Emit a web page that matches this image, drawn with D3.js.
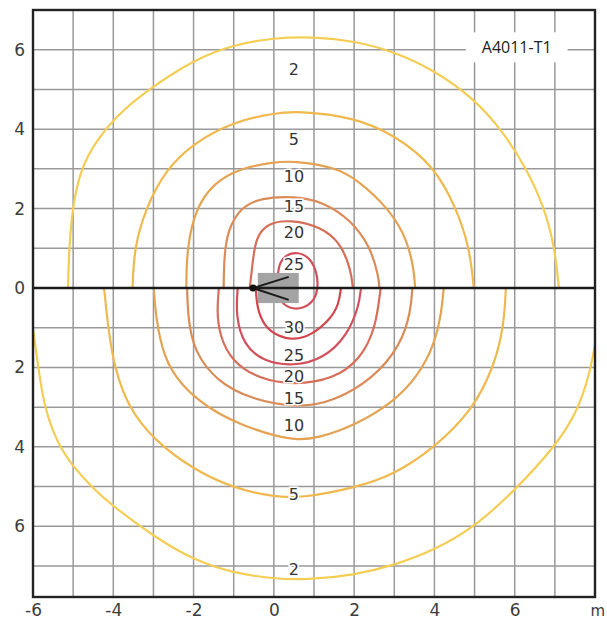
<!DOCTYPE html>
<html>
<head>
<meta charset="utf-8">
<script src="https://cdn.jsdelivr.net/npm/d3@7"></script>
<style>
  body { margin: 0; background: #fff; }
  svg { display: block; }
  .tick-label { font-family: "DejaVu Sans", sans-serif; font-size: 17px; fill: #3c3c3c; }
  .unit-label { font-family: "DejaVu Sans", sans-serif; font-size: 15px; fill: #3c3c3c; }
  .contour-label { font-family: "DejaVu Sans", sans-serif; font-size: 16px; fill: #333; }
  .tag { font-family: "Open Sans", sans-serif; font-size: 16px; fill: #222; }
</style>
</head>
<body>
<div id="chart"></div>
<script>
// Axis ticks (metres)
const xTicks = [-6, -4, -2, 0, 2, 4, 6];
const yTicks = [6, 4, 2, 0, -2, -4, -6];
const xGridLines = [-5, -4, -3, -2, -1, 0, 1, 2, 3, 4, 5, 6, 7];
const yGridLines = [6, 5, 4, 3, 2, 1, -1, -2, -3, -4, -5, -6, -7];

// Isolines, upper half (x, y in m)
const upper2 = [[-5.13,0],[-5.1,1.0],[-5.02,2.0],[-4.82,3.0],[-4.4,3.75],[-3.9,4.35],[-3.2,4.95],[-2.0,5.75],[-1.0,6.13],[0,6.3],[1,6.33],[2,6.22],[3,5.95],[4,5.48],[5,4.76],[5.7,3.95],[6.3,3.0],[6.75,2.0],[7.0,1.0],[7.1,0]];
const upper5 = [[-3.52,0],[-3.48,1.0],[-3.2,2.0],[-2.68,3.0],[-2.0,3.65],[-1.0,4.19],[0,4.4],[0.6,4.46],[2,4.3],[3,3.86],[4,3.07],[4.55,2.0],[4.88,1.0],[4.98,0]];
const upper10 = [[-2.18,0],[-2.17,1.0],[-1.95,2.0],[-1.5,2.65],[-0.82,3.02],[0,3.17],[0.5,3.2],[1.5,3.05],[2.1,2.72],[2.9,1.96],[3.33,1.2],[3.49,0.45],[3.52,0]];
const upper15 = [[-1.25,0],[-1.24,0.78],[-1.15,1.46],[-0.82,2.04],[-0.32,2.27],[0.5,2.31],[1.24,2.17],[1.92,1.71],[2.41,1.03],[2.61,0.28],[2.63,0]];
const upper20 = [[-0.6,0],[-0.53,0.63],[-0.45,1.28],[-0.15,1.64],[0.42,1.72],[1.17,1.54],[1.67,1.13],[1.92,0.45],[1.97,0]];
const loop25 = [[0.08,0],[0.1,0.55],[0.27,0.83],[0.6,0.92],[0.93,0.74],[1.08,0.35],[1.1,0],[1.02,-0.3],[0.75,-0.52],[0.38,-0.53],[0.13,-0.3]];

// Isolines, lower half
const lower30 = [[-0.45,0],[-0.42,-0.5],[-0.25,-0.95],[0.1,-1.22],[0.5,-1.31],[0.92,-1.2],[1.42,-0.78],[1.62,-0.4],[1.67,0]];
const lower25 = [[-0.9,0],[-0.95,-0.7],[-0.75,-1.44],[-0.25,-1.86],[0.5,-1.97],[1.24,-1.78],[1.84,-1.18],[2.12,-0.45],[2.17,0]];
const lower20 = [[-1.37,0],[-1.42,-0.6],[-1.35,-1.2],[-1.05,-1.85],[-0.35,-2.3],[0.5,-2.44],[1.49,-2.3],[2.17,-1.78],[2.54,-1.0],[2.66,0]];
const lower15 = [[-2.16,0],[-2.14,-0.76],[-1.99,-1.6],[-1.4,-2.37],[-0.57,-2.8],[0.6,-3.02],[1.49,-2.86],[2.49,-2.27],[3.16,-1.44],[3.41,-0.6],[3.45,0]];
const lower10 = [[-2.99,0],[-2.94,-0.76],[-2.74,-1.76],[-2.32,-2.44],[-1.65,-3.02],[-0.82,-3.45],[0.1,-3.75],[0.6,-3.82],[1.05,-3.79],[2.0,-3.47],[3.0,-2.86],[3.6,-2.2],[4.0,-1.43],[4.18,-0.6],[4.23,0]];
const lower5 = [[-4.23,0],[-4.13,-0.98],[-3.98,-1.99],[-3.63,-3.0],[-2.99,-3.83],[-1.99,-4.58],[-1.0,-5.04],[0,-5.26],[0.67,-5.29],[1.99,-5.04],[2.99,-4.71],[4.03,-4.0],[4.95,-3.07],[5.48,-1.99],[5.73,-0.98],[5.78,0]];
const lower2 = [[-6.15,0],[-6.0,-1.0],[-5.87,-2.0],[-5.72,-3.0],[-5.4,-3.9],[-5.0,-4.5],[-4.5,-5.05],[-4.0,-5.5],[-3.0,-6.25],[-2.0,-6.85],[-1.0,-7.18],[0,-7.32],[0.8,-7.35],[2,-7.23],[3,-6.98],[4,-6.6],[5,-6.02],[6,-5.1],[7,-4.0],[7.6,-3.07],[7.97,-1.8],[8.15,-0.3]];

// Isoline value labels (value, y position at x = 0.5)
const labelValuesUpper = [2, 5, 10, 15, 20, 25];
const labelYUpper = [5.49, 3.73, 2.8, 2.04, 1.41, 0.6];
const labelValuesLower = [30, 25, 20, 15, 10, 5, 2];
const labelYLower = [-1.0, -1.69, -2.24, -2.77, -3.45, -5.19, -7.1];
const labelX = 0.5;

// Luminaire symbol (m)
const lumBox = [[-0.4, 0.38], [0.62, -0.38]];
const lumPivot = [-0.52, 0];
const lumArms = [[0.37, 0.28], [0.37, -0.3]];

const colors = { 2: "#f4cd55", 5: "#efb94f", 10: "#e4a352", 15: "#da8c58", 20: "#d66f5a", 25: "#d2505c", 30: "#d0454e" };

const contours = [
    { level: 2, pts: upper2 }, { level: 5, pts: upper5 }, { level: 10, pts: upper10 },
    { level: 15, pts: upper15 }, { level: 20, pts: upper20 },
    { level: 2, pts: lower2 }, { level: 5, pts: lower5 }, { level: 10, pts: lower10 },
    { level: 15, pts: lower15 }, { level: 20, pts: lower20 }, { level: 25, pts: lower25 },
    { level: 30, pts: lower30 }
];

const width = 607, height = 626;
const x = d3.scaleLinear().domain([-6, 8]).range([33, 595]);
const y = d3.scaleLinear().domain([-7.78, 7]).range([597, 10]);

const svg = d3.select("#chart").append("svg")
    .attr("width", width)
    .attr("height", height);

svg.append("defs").append("clipPath").attr("id", "plot-clip")
    .append("rect")
    .attr("x", x(-6)).attr("y", y(7))
    .attr("width", x(8) - x(-6)).attr("height", y(-7.78) - y(7));

// grid
svg.append("g").selectAll("line.v").data(xGridLines).enter().append("line")
    .attr("x1", d => x(d)).attr("x2", d => x(d))
    .attr("y1", y(7)).attr("y2", y(-7.78))
    .attr("stroke", "#999").attr("stroke-width", 1.5);
svg.append("g").selectAll("line.h").data(yGridLines).enter().append("line")
    .attr("x1", x(-6)).attr("x2", x(8))
    .attr("y1", d => y(d)).attr("y2", d => y(d))
    .attr("stroke", "#999").attr("stroke-width", 1.5);

// tag box (white patch over the grid)
const tag = svg.append("g");
const tagText = tag.append("text")
    .attr("class", "tag")
    .attr("x", x(6.05)).attr("y", y(6.06))
    .attr("text-anchor", "middle")
    .attr("dominant-baseline", "central")
    .text("A4011-T1");
const bb = tagText.node().getBBox();
tag.insert("rect", "text")
    .attr("x", bb.x - 16).attr("y", bb.y - 4)
    .attr("width", bb.width + 32).attr("height", bb.height + 8)
    .attr("fill", "#fff");

// isolines
const line = d3.line()
    .x(d => x(d[0])).y(d => y(d[1]))
    .curve(d3.curveBasis);
const lineClosed = d3.line()
    .x(d => x(d[0])).y(d => y(d[1]))
    .curve(d3.curveBasisClosed);

const iso = svg.append("g").attr("clip-path", "url(#plot-clip)");
iso.selectAll("path.iso").data(contours).enter().append("path")
    .attr("d", d => line(d.pts))
    .attr("fill", "none")
    .attr("stroke", d => colors[d.level])
    .attr("stroke-width", 2.2);
iso.append("path")
    .attr("d", lineClosed(loop25))
    .attr("fill", "none")
    .attr("stroke", colors[25])
    .attr("stroke-width", 2.2);

// luminaire
svg.append("rect")
    .attr("x", x(lumBox[0][0])).attr("y", y(lumBox[0][1]))
    .attr("width", x(lumBox[1][0]) - x(lumBox[0][0]))
    .attr("height", y(lumBox[1][1]) - y(lumBox[0][1]))
    .attr("fill", "#a3a3a3");

// axis line y = 0
svg.append("line")
    .attr("x1", x(-6)).attr("x2", x(8))
    .attr("y1", y(0)).attr("y2", y(0))
    .attr("stroke", "#1a1a1a").attr("stroke-width", 2.6);

svg.append("g").selectAll("line").data(lumArms).enter().append("line")
    .attr("x1", x(lumPivot[0])).attr("y1", y(lumPivot[1]))
    .attr("x2", d => x(d[0])).attr("y2", d => y(d[1]))
    .attr("stroke", "#1a1a1a").attr("stroke-width", 2);
svg.append("circle")
    .attr("cx", x(lumPivot[0])).attr("cy", y(lumPivot[1]))
    .attr("r", 3.5).attr("fill", "#111");

// isoline labels
const labels = labelValuesUpper.map((v, i) => ({ v, y: labelYUpper[i] }))
    .concat(labelValuesLower.map((v, i) => ({ v, y: labelYLower[i] })));
svg.append("g").selectAll("text").data(labels).enter().append("text")
    .attr("class", "contour-label")
    .attr("x", x(labelX)).attr("y", d => y(d.y))
    .attr("text-anchor", "middle")
    .attr("dominant-baseline", "central")
    .attr("stroke", "#fff").attr("stroke-width", 3).attr("paint-order", "stroke")
    .text(d => d.v);

// frame
svg.append("rect")
    .attr("x", x(-6)).attr("y", y(7))
    .attr("width", x(8) - x(-6)).attr("height", y(-7.78) - y(7))
    .attr("fill", "none").attr("stroke", "#222").attr("stroke-width", 2.4);

// tick labels
const xAxis = svg.append("g")
    .attr("transform", `translate(0,${y(-7.78)})`)
    .call(d3.axisBottom(x).tickValues(xTicks).tickSize(0).tickPadding(7).tickFormat(d => String(d)));
xAxis.select(".domain").remove();
xAxis.selectAll("text").attr("class", "tick-label").attr("font-family", null).attr("font-size", null)
    .attr("fill", null);

const yAxis = svg.append("g")
    .attr("transform", `translate(${x(-6)},0)`)
    .call(d3.axisLeft(y).tickValues(yTicks).tickSize(0).tickPadding(8).tickFormat(d => String(Math.abs(d))));
yAxis.select(".domain").remove();
yAxis.selectAll("text").attr("class", "tick-label").attr("font-family", null).attr("font-size", null)
    .attr("fill", null);

svg.append("text")
    .attr("class", "unit-label")
    .attr("x", width - 2).attr("y", y(-7.78) + 8)
    .attr("dy", "0.71em")
    .attr("text-anchor", "end")
    .text("m");
</script>
</body>
</html>
